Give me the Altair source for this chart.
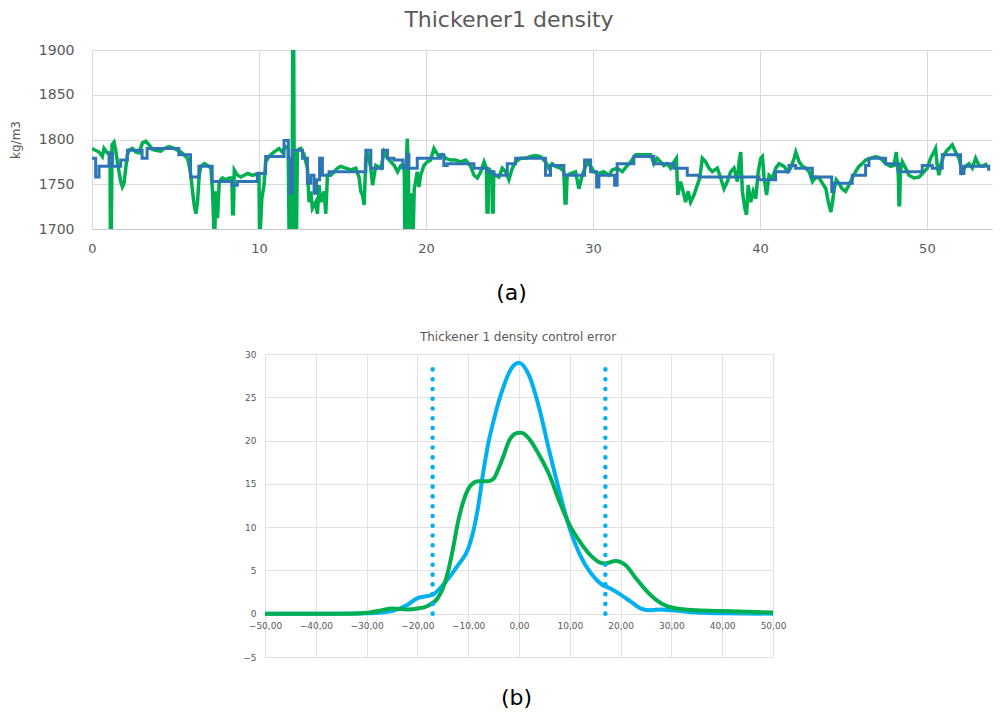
import altair as alt
import pandas as pd

# ---------------- Panel (a): Thickener1 density (time series) ----------------
green_t = [0.0, 0.2, 0.42, 0.62, 0.72, 0.92, 1.08, 1.1, 1.16, 1.2, 1.32, 1.42, 1.52, 1.62, 1.72, 1.82, 1.92,
           2.02, 2.12, 2.22, 2.42, 2.62, 2.82, 3.02, 3.22, 3.42, 3.62, 3.82, 4.12, 4.32, 4.62, 4.92, 5.12,
           5.32, 5.52, 5.72, 5.82, 5.92, 6.02, 6.12, 6.22, 6.32, 6.42, 6.52, 6.72, 6.92, 7.12, 7.22, 7.3,
           7.36, 7.42, 7.52, 7.62, 7.82, 8.02, 8.22, 8.38, 8.42, 8.47, 8.52, 8.72, 8.92, 9.12, 9.32, 9.62,
           9.92, 10.0, 10.03, 10.08, 10.17, 10.3, 10.4, 10.6, 10.9, 11.2, 11.4, 11.6, 11.75, 11.8, 11.98,
           12.02, 12.08, 12.12, 12.25, 12.3, 12.5, 12.7, 12.9, 13.0, 13.1, 13.2, 13.4, 13.5, 13.6, 13.7,
           13.9, 14.0, 14.1, 14.3, 14.5, 14.7, 14.9, 15.2, 15.5, 15.8, 16.0, 16.1, 16.2, 16.3, 16.4, 16.5,
           16.7, 16.8, 17.0, 17.3, 17.5, 17.7, 17.9, 18.1, 18.3, 18.5, 18.7, 18.73, 18.77, 18.8, 18.88,
           18.95, 18.98, 19.04, 19.1, 19.17, 19.24, 19.3, 19.38, 19.48, 19.58, 19.68, 19.88, 20.08, 20.28,
           20.48, 20.6, 20.78, 20.98, 21.18, 21.48, 21.78, 22.08, 22.38, 22.68, 22.88, 23.08, 23.28, 23.48,
           23.62, 23.66, 23.72, 23.76, 23.87, 23.95, 23.98, 24.03, 24.06, 24.17, 24.37, 24.57, 24.77,
           24.97, 25.17, 25.37, 25.67, 25.97, 26.26, 26.56, 26.86, 27.16, 27.36, 27.56, 27.76, 28.06,
           28.26, 28.33, 28.39, 28.46, 28.66, 28.96, 29.16, 29.36, 29.66, 29.86, 30.06, 30.36, 30.66,
           30.96, 31.16, 31.46, 31.76, 32.06, 32.26, 32.56, 32.86, 33.16, 33.46, 33.65, 33.85, 34.05,
           34.25, 34.45, 34.65, 34.85, 35.0, 35.08, 35.25, 35.4, 35.55, 35.7, 35.85, 36.05, 36.25, 36.4,
           36.55, 36.75, 36.95, 37.15, 37.45, 37.65, 37.85, 38.05, 38.25, 38.45, 38.65, 38.75, 38.85,
           38.95, 39.1, 39.2, 39.3, 39.45, 39.6, 39.75, 39.9, 40.05, 40.15, 40.25, 40.4, 40.55, 40.75,
           40.95, 41.15, 41.45, 41.65, 41.85, 42.05, 42.15, 42.35, 42.55, 42.75, 42.95, 43.15, 43.35,
           43.55, 43.75, 43.95, 44.1, 44.25, 44.35, 44.45, 44.57, 44.73, 44.93, 45.13, 45.33, 45.53,
           45.73, 45.93, 46.13, 46.33, 46.63, 46.93, 47.23, 47.53, 47.83, 48.03, 48.17, 48.29, 48.33,
           48.37, 48.41, 48.53, 48.73, 48.93, 49.23, 49.53, 49.83, 50.03, 50.22, 50.42, 50.52, 50.62,
           50.72, 50.82, 51.02, 51.22, 51.42, 51.52, 51.72, 51.92, 52.12, 52.32, 52.52, 52.72, 52.92,
           53.12, 53.32, 53.62]
green_v = [1790, 1788, 1786, 1781, 1790, 1785, 1785, 1700, 1700, 1794, 1797, 1788, 1775, 1764, 1753, 1747, 1751,
           1768, 1783, 1788, 1790, 1786, 1785, 1796, 1798, 1794, 1789, 1788, 1787, 1790, 1792, 1790, 1788,
           1786, 1783, 1779, 1771, 1760, 1742, 1727, 1717, 1730, 1760, 1770, 1773, 1771, 1768, 1742, 1700,
           1700, 1742, 1712, 1753, 1757, 1755, 1757, 1757, 1717, 1717, 1766, 1760, 1758, 1760, 1762, 1760,
           1762, 1762, 1700, 1700, 1734, 1749, 1775, 1781, 1786, 1790, 1786, 1792, 1790, 1700, 1700,
           1900, 1900, 1700, 1700, 1788, 1790, 1783, 1768, 1730, 1742, 1723, 1730, 1717, 1749, 1730,
           1742, 1717, 1760, 1760, 1764, 1768, 1770, 1768, 1766, 1768, 1757, 1742, 1738, 1727, 1779, 1786,
           1768, 1749, 1771, 1768, 1786, 1779, 1775, 1771, 1764, 1771, 1771, 1700, 1700, 1760, 1801,
           1765, 1700, 1700, 1740, 1700, 1700, 1745, 1753, 1764, 1747, 1760, 1771, 1775, 1777,
           1790, 1786, 1781, 1783, 1779, 1777, 1777, 1775, 1777, 1770, 1760, 1757, 1764, 1775,
           1768, 1719, 1719, 1768, 1764, 1764, 1719, 1719, 1762, 1760, 1758, 1768, 1764,
           1755, 1768, 1775, 1779, 1779, 1781, 1782, 1781, 1775, 1768, 1773, 1770, 1768,
           1764, 1729, 1729, 1760, 1762, 1764, 1745, 1760, 1775, 1770, 1764, 1762, 1764,
           1760, 1766, 1768, 1764, 1771, 1775, 1783, 1783, 1783, 1783, 1773, 1779, 1775,
           1771, 1773, 1768, 1775, 1779, 1738, 1753, 1742, 1730, 1742, 1730, 1738, 1749, 1757,
           1779, 1775, 1768, 1764, 1768, 1757, 1745, 1753, 1764, 1768, 1753, 1775, 1786,
           1742, 1723, 1716, 1749, 1730, 1742, 1734, 1764, 1779, 1781, 1757, 1738, 1760, 1757,
           1768, 1773, 1770, 1764, 1768, 1779, 1786, 1775, 1770, 1768, 1764, 1753, 1758,
           1757, 1751, 1745, 1730, 1719, 1730, 1745, 1755, 1751, 1745, 1742, 1749, 1757,
           1764, 1770, 1773, 1777, 1779, 1781, 1779, 1773, 1770, 1771, 1786, 1760, 1727,
           1727, 1764, 1775, 1768, 1760, 1757, 1758, 1764, 1768, 1779, 1786, 1790, 1771,
           1760, 1771, 1783, 1788, 1792, 1794, 1786, 1779, 1764, 1770, 1773, 1768, 1779,
           1771, 1770, 1773]

blue_t = [0.0, 0.22, 0.42, 1.02, 1.22, 1.72, 2.12, 3.0, 3.3, 5.2, 5.9, 6.4, 7.2, 8.4, 8.7, 9.9, 10.4,
          11.5, 11.76, 11.86, 12.0, 12.6, 12.9, 13.1, 13.3, 13.45, 13.63, 13.8, 14.2, 16.4, 16.7, 17.4,
          17.7, 18.08, 18.62, 18.84, 18.98, 19.48, 20.87, 21.07, 21.27, 22.87, 23.67, 24.07, 24.87,
          25.37, 27.16, 27.46, 28.26, 29.5, 29.86, 30.22, 30.36, 31.3, 31.45, 32.45, 33.65, 34.85,
          35.65, 36.35, 39.94, 40.94, 41.74, 42.14, 43.14, 44.3, 44.43, 45.53, 46.33, 46.53, 47.53,
          48.33, 49.72, 50.32, 50.92, 52.02, 52.22, 53.7]
blue_v = [1779, 1758, 1770, 1785, 1770, 1777, 1788, 1779, 1790, 1783, 1758, 1770, 1753, 1749, 1753, 1762, 1781,
          1799, 1779, 1740, 1788, 1779, 1751, 1760, 1740, 1755, 1779, 1760, 1764, 1788, 1768, 1788,
          1779, 1777, 1768, 1783, 1768, 1779, 1783, 1771, 1773, 1768, 1764, 1760, 1773,
          1779, 1760, 1771, 1760, 1777, 1764, 1747, 1760, 1749, 1773, 1781, 1773, 1768,
          1760, 1758, 1755, 1764, 1771, 1768, 1758, 1742, 1751, 1760, 1771, 1779, 1773,
          1764, 1771, 1768, 1783, 1762, 1770, 1765]

top_x_ticks = [0, 10, 20, 30, 40, 50]
top_y_ticks = [1700, 1750, 1800, 1850, 1900]

# ---------------- Panel (b): density control error distribution ----------------
err_blue_x = [-50, -40, -35, -30, -27, -25, -22, -20, -17, -15, -12, -10, -9, -8, -7, -6, -5, -4, -3, -2,
              -1, 0, 2, 4, 6, 8, 10, 12, 14, 16, 18, 20, 22, 24, 26, 28, 30, 35, 40, 50]
err_blue_y = [0, 0, 0, 0.05, 0.15, 0.3, 1.0, 1.8, 2.2, 3.3, 5.6, 7.5, 9.5, 12.5, 16.5, 19.8, 22.3, 24.5,
              26.3, 27.8, 28.7, 29.0, 27.5, 23.7, 18.7, 14.0, 9.8, 6.8, 4.8, 3.5, 2.9, 2.2, 1.4, 0.6, 0.4,
              0.5, 0.4, 0.15, 0.05, 0]
err_green_x = [-50, -40, -33, -30, -27, -25, -22, -20, -18, -16, -15, -14, -13, -12, -11, -10, -9, -8, -6,
               -5, -4, -3, -2, -1, 0, 0.5, 2, 4, 6, 8, 10, 12, 14, 16, 17, 19, 21, 23, 25, 27, 29, 31,
               35, 40, 50]
err_green_y = [0, 0, 0, 0.1, 0.4, 0.6, 0.5, 0.6, 0.9, 1.8, 2.9, 4.8, 7.5, 10.6, 12.9, 14.4, 15.1, 15.3,
               15.3, 15.6, 16.8, 18.3, 19.9, 20.7, 20.9, 20.9, 20.2, 18.3, 16.0, 12.9, 10.2, 8.3, 6.8,
               5.9, 5.8, 6.1, 5.6, 4.1, 2.7, 1.6, 0.9, 0.6, 0.4, 0.3, 0.15]
limit_x = [-17, 17]
limit_low = [0, 0]
limit_high = [29.3, 29.3]

bot_x_ticks = [-50, -40, -30, -20, -10, 0, 10, 20, 30, 40, 50]
bot_y_ticks = [-5, 0, 5, 10, 15, 20, 25, 30]

GRAY = "#595959"
FONT = "DejaVu Sans"

# ---------- build panel (a) ----------
df_top = pd.concat([
    pd.DataFrame({"t": green_t, "v": green_v, "s": "g"}),
    pd.DataFrame({"t": blue_t, "v": blue_v, "s": "b"}),
])

xa = alt.X("t:Q", scale=alt.Scale(domain=[0, 53.9], nice=False),
           axis=alt.Axis(values=top_x_ticks, format="d", labelFontSize=13, labelPadding=13,
                         labelColor=GRAY, labelFlush=False, ticks=False, domainColor="#C8C8C8",
                         gridColor="#D9D9D9", title="(a)", titleFontSize=22, titleColor="black",
                         titleFontWeight="normal", titleX=419, titleY=63, titleBaseline="middle",
                         titleAlign="center"))
ya = alt.Y("v:Q", scale=alt.Scale(domain=[1700, 1900], nice=False, zero=False),
           axis=alt.Axis(values=top_y_ticks, format="d", labelFontSize=14, labelPadding=18,
                         labelColor=GRAY, ticks=False, domain=False, gridColor="#D9D9D9",
                         title="kg/m3", titleFontSize=12, titleFontWeight="normal", titleColor=GRAY,
                         titlePadding=16))

base_a = alt.Chart(df_top).encode(x=xa, y=ya)
green_line = base_a.transform_filter("datum.s == 'g'").mark_line(
    color="#00B050", strokeWidth=3.5, clip=True)
blue_line = base_a.transform_filter("datum.s == 'b'").mark_line(
    color="#2E75B6", strokeWidth=3, interpolate="step-after", clip=True)

top = alt.layer(green_line, blue_line).properties(
    width=900, height=179,
    title=alt.TitleParams("Thickener1 density", fontSize=22, font=FONT, color=GRAY,
                          fontWeight="normal", offset=11, anchor="middle", frame="group", dx=-33))

# ---------- build panel (b) ----------
df_err = pd.concat([
    pd.DataFrame({"x": err_blue_x, "y": err_blue_y, "s": "b"}),
    pd.DataFrame({"x": err_green_x, "y": err_green_y, "s": "g"}),
])
df_lim = pd.DataFrame({"x": limit_x, "y": limit_low, "y2": limit_high})

xb = alt.X("x:Q", scale=alt.Scale(domain=[-50, 50], nice=False),
           axis=alt.Axis(values=bot_x_ticks,
                         labelExpr="replace(format(datum.value, '.2f'), '.', ',')",
                         labelFontSize=9, labelPadding=-36, labelColor=GRAY, labelFlush=False,
                         ticks=False, domain=False, gridColor="#E1E1E1",
                         title="(b)", titleFontSize=22, titleColor="black", titleFontWeight="normal",
                         titleX=251, titleY=40, titleBaseline="middle", titleAlign="center"))
yb = alt.Y("y:Q", scale=alt.Scale(domain=[-5, 30], nice=False, zero=False),
           axis=alt.Axis(values=bot_y_ticks, labelFontSize=9, labelPadding=9, labelColor=GRAY,
                         ticks=False, domain=False, gridColor="#E1E1E1", title=None))

base_b = alt.Chart(df_err).encode(x=xb, y=yb)
blue_curve = base_b.transform_filter("datum.s == 'b'").mark_line(
    color="#00B0F0", strokeWidth=4, interpolate="monotone", clip=True)
green_curve = base_b.transform_filter("datum.s == 'g'").mark_line(
    color="#00B050", strokeWidth=4, interpolate="monotone", clip=True)
limits = alt.Chart(df_lim).mark_rule(
    color="#00B0F0", strokeWidth=4.5, strokeDash=[0.1, 9.67], strokeCap="round").encode(
    x=xb, y=yb, y2="y2:Q")

bottom = alt.layer(blue_curve, green_curve, limits).properties(
    width=508, height=303,
    title=alt.TitleParams("Thickener 1 density control error", fontSize=12, font=FONT, color=GRAY,
                          fontWeight="normal", offset=6, anchor="middle", frame="group", dx=-1))

spacer = alt.Chart(pd.DataFrame({"a": [0]})).mark_point(opacity=0).encode(
    x=alt.value(0), y=alt.value(0)).properties(width=149, height=20)

chart = alt.vconcat(top, alt.hconcat(spacer, bottom, spacing=0), spacing=26).properties(
    padding=0).configure(font=FONT, view=alt.ViewConfig(stroke="transparent"))

chart.save("out.html", embed_options={"renderer": "svg", "actions": False})
